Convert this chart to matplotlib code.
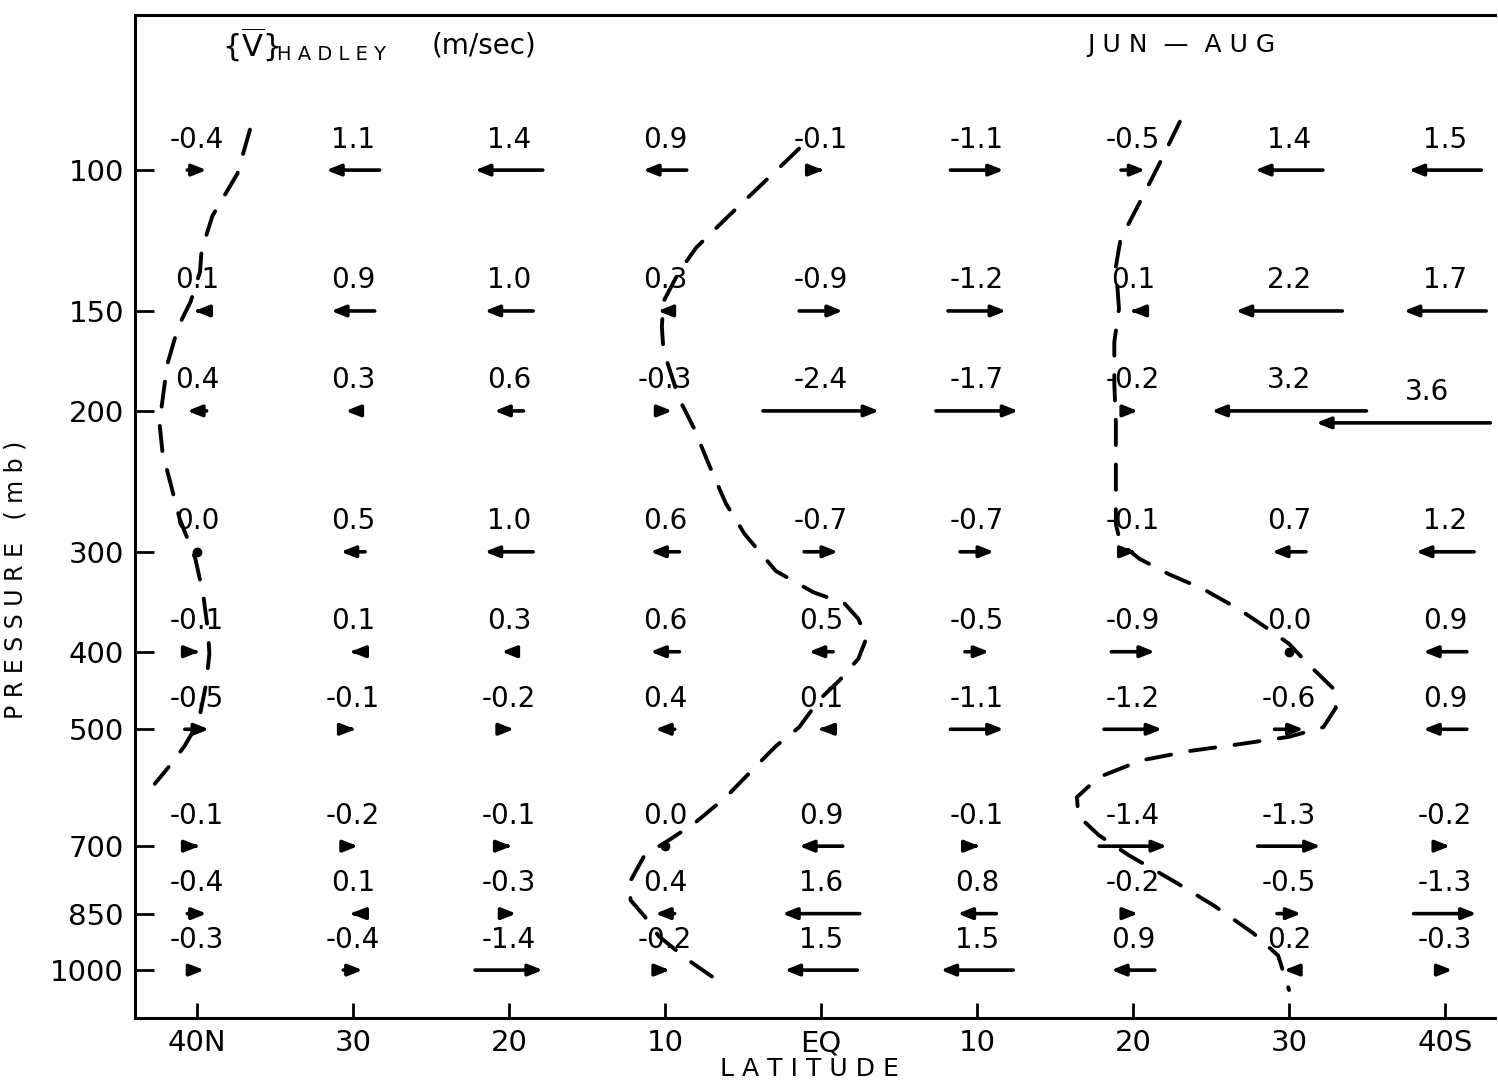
import numpy as np
import matplotlib
matplotlib.use("Agg")
import matplotlib.pyplot as plt
from matplotlib.ticker import NullLocator

# latitude axis: south positive, 40N = -40 ... 40S = 40
LATS = [-40, -30, -20, -10, 0, 10, 20, 30, 40]
LAT_LABELS = ["40N", "30", "20", "10", "EQ", "10", "20", "30", "40S"]
PRESSURES = [100, 150, 200, 300, 400, 500, 700, 850, 1000]

# {v} Hadley (m/sec), rows = pressure levels, columns = latitudes 40N..40S
V_100 = [-0.4, 1.1, 1.4, 0.9, -0.1, -1.1, -0.5, 1.4, 1.5]
V_150 = [0.1, 0.9, 1.0, 0.3, -0.9, -1.2, 0.1, 2.2, 1.7]
V_200 = [0.4, 0.3, 0.6, -0.3, -2.4, -1.7, -0.2, 3.2, 3.6]
V_300 = [0.0, 0.5, 1.0, 0.6, -0.7, -0.7, -0.1, 0.7, 1.2]
V_400 = [-0.1, 0.1, 0.3, 0.6, 0.5, -0.5, -0.9, 0.0, 0.9]
V_500 = [-0.5, -0.1, -0.2, 0.4, 0.1, -1.1, -1.2, -0.6, 0.9]
V_700 = [-0.1, -0.2, -0.1, 0.0, 0.9, -0.1, -1.4, -1.3, -0.2]
V_850 = [-0.4, 0.1, -0.3, 0.4, 1.6, 0.8, -0.2, -0.5, -1.3]
V_1000 = [-0.3, -0.4, -1.4, -0.2, 1.5, 1.5, 0.9, 0.2, -0.3]
V_ROWS = [V_100, V_150, V_200, V_300, V_400, V_500, V_700, V_850, V_1000]

# dashed zero lines (latitude, pressure mb)
ZERO_A_LAT = [-36.6, -37.4, -39.0, -39.7, -39.8, -40.4, -41.2, -41.9, -42.4, -42.2, -41.7,
              -41.1, -40.1, -39.6, -39.3, -39.2, -39.4, -39.9, -40.8, -41.7, -42.7]
ZERO_A_P = [89, 101, 114, 126, 134, 146, 157, 175, 207, 226, 246,
            273, 306, 339, 375, 402, 438, 490, 525, 554, 585]

ZERO_B_LAT = [-1.4, -2.6, -4.2, -5.9, -8.0, -9.1, -10.1, -10.2, -10.1, -9.1, -8.1, -7.2,
              -6.1, -4.9, -2.9, -0.5, 1.5, 2.4, 2.9, 2.4, 1.2, -0.1, -1.4, -2.9, -4.2,
              -6.1, -8.1, -9.7, -11.3, -12.3, -12.2, -11.3, -10.4, -8.5, -6.2]
ZERO_B_P = [94, 99, 106, 114, 125, 134, 146, 157, 168, 193, 211, 233,
            261, 285, 317, 337, 348, 364, 385, 408, 434, 459, 497, 525, 557,
            608, 655, 687, 718, 779, 818, 857, 907, 972, 1044]

ZERO_C_LAT = [23.0, 21.6, 20.4, 19.2, 18.9, 19.1, 18.8, 18.8, 18.9, 18.9, 18.9, 19.2,
              20.4, 22.3, 24.5, 26.8, 28.7, 30.0, 31.2, 32.8, 33.0, 32.2, 30.0, 26.8,
              23.7, 20.5, 17.8, 16.4, 16.5, 17.8, 19.7, 22.6, 25.2, 27.7, 29.3, 30.0]
ZERO_C_P = [87, 99, 110, 122, 132, 149, 164, 185, 207, 239, 277, 293,
            306, 320, 334, 354, 375, 391, 414, 444, 470, 497, 511, 522,
            532, 547, 574, 608, 642, 678, 718, 774, 831, 899, 959, 1059]

ARROW_SCALE = 3.1   # degrees of latitude per m/s
XMIN, XMAX = -43.97, 43.2
YBOT, YTOP = 1148, 64

plt.rcParams["font.family"] = ["DejaVu Sans"]

fig = plt.figure(figsize=(14.98, 10.82), dpi=100)
ax = fig.add_axes([0.0901, 0.0591, 0.9079, 0.927])
ax.set_xlim(XMIN, XMAX)
ax.set_yscale("log")
ax.set_ylim(YBOT, YTOP)

for lats, ps in [(ZERO_A_LAT, ZERO_A_P), (ZERO_B_LAT, ZERO_B_P), (ZERO_C_LAT, ZERO_C_P)]:
    ax.plot(lats, ps, color="black", lw=2.8, linestyle=(0, (6.5, 5.0)),
            dash_capstyle="round", zorder=2)

for p, row in zip(PRESSURES, V_ROWS):
    for lat, v in zip(LATS, row):
        dx = -v * ARROW_SCALE          # northward (positive) points left
        x0 = lat
        p0 = p
        shifted = False
        right_end = x0 + abs(dx) / 2
        if right_end > XMAX - 0.3:
            x0 -= right_end - (XMAX - 0.3)
            p0 = p * 1.035
            shifted = True
        if v == 0:
            ax.plot([x0], [p0], "o", color="black", ms=6, zorder=3)
        else:
            ax.annotate("", xy=(x0 + dx / 2, p0), xytext=(x0 - dx / 2, p0),
                        arrowprops=dict(arrowstyle="-|>,head_length=0.5,head_width=0.2",
                                        lw=2.6, color="black",
                                        mutation_scale=17, shrinkA=0, shrinkB=0),
                        zorder=3)
        ax.annotate(f"{v:.1f}", xy=(x0 + 1.5 if shifted else x0, p0), xytext=(0, 22),
                    textcoords="offset points", ha="center", va="center",
                    fontsize=20)

ax.set_xticks(LATS)
ax.set_xticklabels(LAT_LABELS)
ax.set_yticks(PRESSURES)
ax.set_yticklabels([str(p) for p in PRESSURES])
ax.yaxis.set_minor_locator(NullLocator())

ax.tick_params(axis="y", direction="in", length=14, width=2, labelsize=21, pad=8)
ax.tick_params(axis="x", direction="in", length=11, width=2, labelsize=21, pad=8)

for side in ["left", "bottom", "top"]:
    ax.spines[side].set_linewidth(2.2)
ax.spines["right"].set_visible(False)

ax.set_ylabel("P R E S S U R E   ( m b )", fontsize=17)
ax.yaxis.set_label_coords(-0.079, 0.437)
ax.set_xlabel("L A T I T U D E", fontsize=18)
ax.xaxis.set_label_coords(0.4956, -0.039)

ax.text(0.0639, 0.970, r"$\{\overline{\mathrm{V}}\}$", transform=ax.transAxes,
        ha="left", va="center", fontsize=22)
ax.text(0.1045, 0.961, "H A D L E Y", transform=ax.transAxes,
        ha="left", va="center", fontsize=14)
ax.text(0.218, 0.970, "(m/sec)", transform=ax.transAxes,
        ha="left", va="center", fontsize=20)
ax.text(0.769, 0.970, "J U N  —  A U G", transform=ax.transAxes,
        ha="center", va="center", fontsize=18)

fig.savefig("out.png", dpi=100)
